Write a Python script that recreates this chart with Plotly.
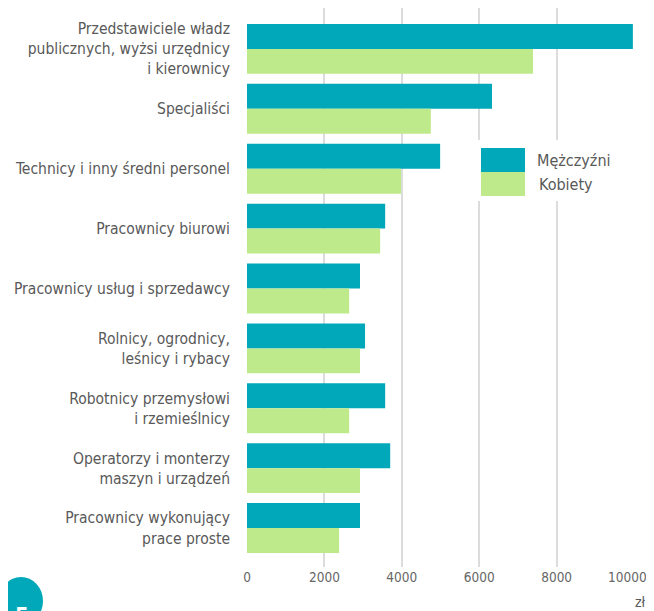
import plotly.graph_objects as go

# average pay by occupation group, zł
categories = [
    "Przedstawiciele władz<br>publicznych, wyżsi urzędnicy<br>i kierownicy",
    "Specjaliści",
    "Technicy i inny średni personel",
    "Pracownicy biurowi",
    "Pracownicy usług i sprzedawcy",
    "Rolnicy, ogrodnicy,<br>leśnicy i rybacy",
    "Robotnicy przemysłowi<br>i rzemieślnicy",
    "Operatorzy i monterzy<br>maszyn i urządzeń",
    "Pracownicy wykonujący<br>prace proste",
]
men = [9970, 6330, 4990, 3570, 2920, 3050, 3570, 3700, 2920]
women = [7390, 4750, 3980, 3440, 2640, 2920, 2640, 2920, 2380]
series_names = ["Mężczyźni", "Kobiety"]
tick_vals = [0, 2000, 4000, 6000, 8000, 10000]
tick_text = ["0", "2000", "4000", "6000", "8000", "10000"]

TEAL = "#01a8b9"
GREEN = "#bfea8b"
FONT = "DejaVu Sans Condensed, Liberation Sans Narrow, Arial Narrow, sans-serif"
TXT = "#595959"
TICK = "#666666"

# the page body has an 8px margin, so the figure is a bit smaller than the window
OFF = 8
W, H = 654 - OFF, 611 - OFF
L, R, T, B = 239, 19, 0, 44
pw, ph = W - L - R, H - T - B


def px(x):
    # page pixel -> paper x
    return (x - OFF - L) / pw


def py(y):
    # page pixel -> paper y
    return 1 - (y - OFF - T) / ph


fig = go.Figure()
fig.add_trace(go.Bar(y=categories, x=men, name=series_names[0], orientation="h",
                     marker=dict(color=TEAL, line=dict(width=0))))
fig.add_trace(go.Bar(y=categories, x=women, name=series_names[1], orientation="h",
                     marker=dict(color=GREEN, line=dict(width=0))))

shapes = [
    # legend box (covers gridlines)
    dict(type="rect", xref="paper", yref="paper", x0=px(472), x1=px(622), y0=py(201), y1=py(140),
         fillcolor="white", line=dict(width=0), layer="above"),
    dict(type="rect", xref="paper", yref="paper", x0=px(481), x1=px(525), y0=py(172), y1=py(148),
         fillcolor=TEAL, line=dict(width=0), layer="above"),
    dict(type="rect", xref="paper", yref="paper", x0=px(481), x1=px(525), y0=py(196), y1=py(172),
         fillcolor=GREEN, line=dict(width=0), layer="above"),
    # page badge
    dict(type="circle", xref="paper", yref="paper", x0=px(-1), x1=px(43), y0=py(625), y1=py(577),
         fillcolor=TEAL, line=dict(width=0), layer="above"),
]

annotations = [
    dict(text=series_names[0], xref="paper", yref="paper", x=px(535), y=py(160),
         xanchor="left", yanchor="middle", showarrow=False, font=dict(size=16, color=TXT, family=FONT)),
    dict(text=series_names[1], xref="paper", yref="paper", x=px(537), y=py(185),
         xanchor="left", yanchor="middle", showarrow=False, font=dict(size=16, color=TXT, family=FONT)),
    # last tick label, nudged left so it stays inside the window
    dict(text=tick_text[-1], xref="x", yref="paper", x=tick_vals[-1], y=py(577),
         xanchor="right", yanchor="middle", xshift=15, showarrow=False,
         font=dict(size=13.5, color=TICK, family=FONT)),
    dict(text="zł", xref="paper", yref="paper", x=px(640), y=py(602),
         xanchor="center", yanchor="middle", showarrow=False, font=dict(size=14, color=TXT, family=FONT)),
    dict(text="<b>5</b>", xref="paper", yref="paper", x=px(22), y=py(601),
         xanchor="center", yanchor="top", showarrow=False, font=dict(size=22, color="white", family=FONT)),
]

fig.update_layout(
    width=W, height=H,
    margin=dict(l=L, r=R, t=T, b=B),
    paper_bgcolor="white", plot_bgcolor="white",
    barmode="group", bargap=0.167, bargroupgap=0,
    showlegend=False,
    font=dict(family=FONT, size=16, color=TXT),
    xaxis=dict(range=[tick_vals[0], tick_vals[-1] + 25], tickvals=tick_vals,
               ticktext=tick_text[:-1] + [""], ticklabeloverflow="allow", showgrid=True,
               gridcolor="#dcdcdc", gridwidth=1.5, zeroline=False, showline=False, ticks="",
               automargin=False, tickfont=dict(size=13.5, color=TICK)),
    yaxis=dict(range=[8.65, -0.683], showgrid=False, ticks="", ticklabelstandoff=16, automargin=False,
               tickfont=dict(size=15.5, color=TXT)),
    shapes=shapes,
    annotations=annotations,
)

fig.write_html("out.html")
